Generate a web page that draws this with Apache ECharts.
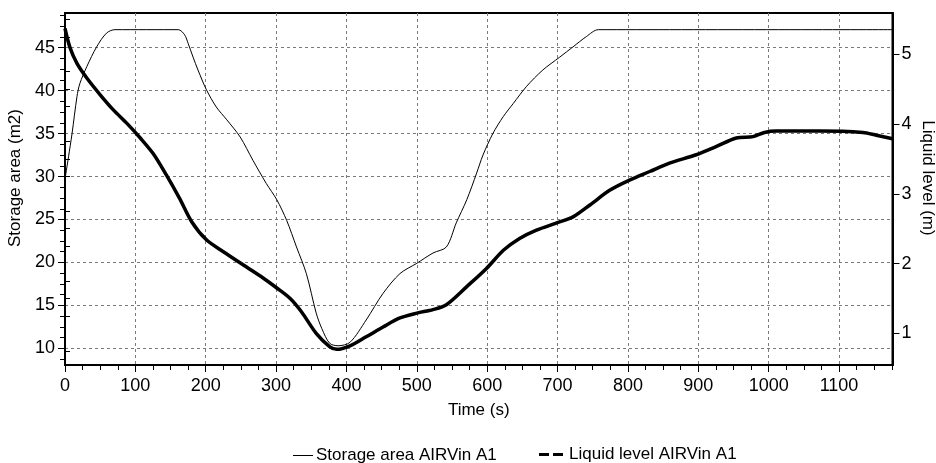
<!DOCTYPE html>
<html>
<head>
<meta charset="utf-8">
<script src="https://cdn.jsdelivr.net/npm/echarts@6/dist/echarts.min.js"></script>
<style>
html,body{margin:0;padding:0;background:#fff;}
#chart{width:936px;height:463px;}
</style>
</head>
<body>
<div id="chart"></div>
<script>
// ---- data ----
const areaTime   = [0,5,10,17,21,31,45,59,71,161,170,175,182,189,201,215,230,249,267,286,301,315,329,343,357,365,376,388,405,428,452,476,500,523,542,556,571,585,594,608,623,637,656,679,703,722,741,758,1176];
const areaValues = [29.7,32.3,35.0,39.3,40.8,42.8,45.1,46.7,47.1,47.1,46.5,45.5,43.9,42.4,40.1,38.1,36.6,34.6,31.9,29.2,27.3,24.9,21.8,18.7,14.1,12.3,10.6,10.3,10.7,13.3,16.4,18.7,19.9,21.1,21.8,24.6,27.3,30.4,32.5,35.0,37.0,38.5,40.5,42.4,43.9,45.1,46.3,47.1,47.1];

const levelTime   = [0,7,17,31,50,69,88,107,125,144,163,180,201,225,258,282,301,320,336,357,376,386,405,428,452,476,500,523,542,571,599,623,646,670,698,722,746,774,803,831,859,897,926,954,978,994,1011,1072,1134,1153,1176];
const levelValues = [5.37,5.10,4.87,4.66,4.42,4.20,4.01,3.80,3.58,3.27,2.93,2.60,2.34,2.17,1.95,1.79,1.65,1.50,1.31,1.00,0.81,0.77,0.82,0.95,1.09,1.22,1.29,1.34,1.41,1.67,1.93,2.19,2.36,2.48,2.58,2.67,2.84,3.05,3.20,3.32,3.44,3.56,3.68,3.80,3.82,3.88,3.90,3.90,3.88,3.84,3.79];

const seriesNames = ['Storage area AIRVin A1', 'Liquid level AIRVin A1'];
const xTitle = 'Time (s)';
const yLeftTitle = 'Storage area (m2)';
const yRightTitle = 'Liquid level (m)';

const xTicks      = [0,100,200,300,400,500,600,700,800,900,1000,1100];
const yLeftTicks  = [10,15,20,25,30,35,40,45];
const yRightTicks = [1,2,3,4,5];

const xRange      = [0, 1176];
const yLeftRange  = [8.06, 49.04];
const yRightRange = [0.546, 5.592];

// minor tick positions
const xMinor = [];
for (let v = 25; v <= 1175; v += 25) if (v % 100 !== 0) xMinor.push(v);
const yLeftMinor = [];
for (let v = 8.75; v <= 49; v += 1.25) if (Math.abs(v % 5) > 1e-6) yLeftMinor.push(v);
const yRightMinor = [];
for (let v = 0.75; v <= 5.5; v += 0.25) if (Math.abs(v - Math.round(v)) > 1e-6) yRightMinor.push(+v.toFixed(2));

const areaData  = areaTime.map((t, i) => [t, areaValues[i]]);
const levelData = levelTime.map((t, i) => [t, levelValues[i]]);

const FONT = "'Liberation Sans', Arial, sans-serif";
const black = '#000';
const plain = v => String(v);

const chart = echarts.init(document.getElementById('chart'), null, {renderer: 'canvas'});

const baseMinorAxis = {
  axisLine: {show: false},
  axisLabel: {show: false},
  splitLine: {show: false},
};

chart.setOption({
  animation: false,
  backgroundColor: '#fff',
  textStyle: {fontFamily: FONT, color: black},
  grid: {
    left: 65, top: 13, width: 827.5, height: 352,
    show: true, borderColor: black, borderWidth: 2, backgroundColor: '#fff',
    containLabel: false, outerBoundsMode: 'none'
  },
  legend: [
    {
      data: [{name: seriesNames[0], icon: 'rect'}],
      left: 288, top: 442, itemWidth: 20, itemHeight: 1, itemGap: 4,
      itemStyle: {color: black, borderWidth: 0},
      textStyle: {fontFamily: FONT, fontSize: 17, color: black, padding: [0,0,0,-2]}
    },
    {
      data: [{name: seriesNames[1], icon: 'path://M0,0H10V3H0Z M14,0H24V3H14Z'}],
      left: 534, top: 441, itemWidth: 26, itemHeight: 3, itemGap: 4,
      itemStyle: {color: black, borderWidth: 0},
      textStyle: {fontFamily: FONT, fontSize: 17, color: black, padding: [0,0,0,0]}
    }
  ],
  xAxis: [
    {
      type: 'value', min: xRange[0], max: xRange[1], position: 'bottom',
      name: xTitle, nameLocation: 'middle', nameGap: 37,
      nameTextStyle: {fontFamily: FONT, fontSize: 17, color: black},
      axisLine: {show: true, onZero: false, lineStyle: {color: black, width: 2}},
      axisTick: {show: true, customValues: xTicks, length: 7, lineStyle: {color: black, width: 1}},
      axisLabel: {customValues: xTicks, formatter: plain, fontFamily: FONT, fontSize: 18, color: black, margin: 12},
      splitLine: {show: true, lineStyle: {color: '#7a7a7a', type: [3, 3], width: 1}}
    },
    Object.assign({
      type: 'value', min: xRange[0], max: xRange[1], position: 'bottom', offset: 0,
      axisTick: {show: true, customValues: xMinor, length: 5, lineStyle: {color: black, width: 1}}
    }, baseMinorAxis)
  ],
  yAxis: [
    {
      type: 'value', min: yLeftRange[0], max: yLeftRange[1], position: 'left',
      name: yLeftTitle, nameLocation: 'middle', nameGap: 37, nameRotate: 90,
      nameTextStyle: {fontFamily: FONT, fontSize: 17, color: black, padding: [0, 0, 0, 22]},
      axisLine: {show: true, onZero: false, lineStyle: {color: black, width: 2}},
      axisTick: {show: true, customValues: yLeftTicks, length: 7, lineStyle: {color: black, width: 1}},
      axisLabel: {customValues: yLeftTicks, formatter: plain, fontFamily: FONT, fontSize: 18, color: black, margin: 10},
      splitLine: {show: true, lineStyle: {color: '#7a7a7a', type: [3, 3], width: 1}}
    },
    {
      type: 'value', min: yRightRange[0], max: yRightRange[1], position: 'right',
      name: yRightTitle, nameLocation: 'middle', nameGap: 27, nameRotate: -90,
      nameMoveOverlap: false,
      nameTextStyle: {fontFamily: FONT, fontSize: 17, color: black, padding: [0, 22, 0, 0]},
      axisLine: {show: true, onZero: false, lineStyle: {color: black, width: 2}},
      axisTick: {show: true, customValues: yRightTicks, length: 7, lineStyle: {color: black, width: 1}},
      axisLabel: {customValues: yRightTicks, formatter: plain, fontFamily: FONT, fontSize: 18, color: black, margin: 9},
      splitLine: {show: false}
    },
    Object.assign({
      type: 'value', min: yLeftRange[0], max: yLeftRange[1], position: 'left', offset: 0,
      axisTick: {show: true, customValues: yLeftMinor, length: 5, lineStyle: {color: black, width: 1}}
    }, baseMinorAxis),
    Object.assign({
      type: 'value', min: yRightRange[0], max: yRightRange[1], position: 'right', offset: 0,
      axisTick: {show: true, customValues: yRightMinor, length: 5, lineStyle: {color: black, width: 1}}
    }, baseMinorAxis)
  ],
  series: [
    {
      name: seriesNames[0], type: 'line', xAxisIndex: 0, yAxisIndex: 0,
      data: areaData, symbol: 'none', smooth: 0.3,
      lineStyle: {color: black, width: 1}, itemStyle: {color: black}, z: 3
    },
    {
      name: seriesNames[1], type: 'line', xAxisIndex: 0, yAxisIndex: 1,
      data: levelData, symbol: 'none', smooth: 0.3,
      lineStyle: {color: black, width: 3.5}, itemStyle: {color: black}, z: 4
    }
  ]
});
</script>
</body>
</html>
